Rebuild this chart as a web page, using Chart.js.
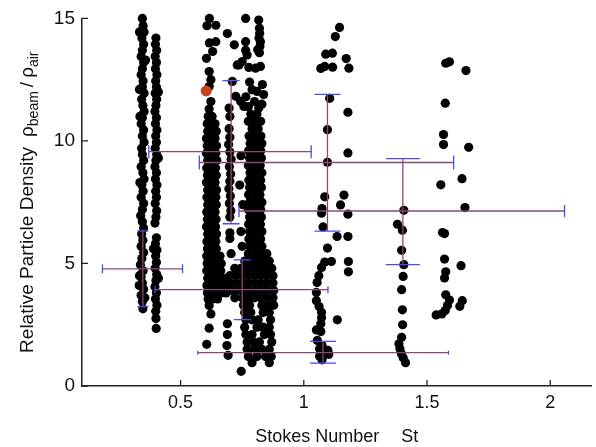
<!DOCTYPE html>
<html>
<head>
<meta charset="utf-8">
<script src="https://cdn.jsdelivr.net/npm/chart.js@4/dist/chart.umd.min.js"></script>
<style>
  html, body { margin: 0; padding: 0; background: #ffffff; }
  #wrap { width: 596px; height: 447px; position: relative; }
</style>
</head>
<body>
<div id="wrap"><canvas id="c" width="596" height="447"></canvas></div>
<script>
// ---------- axis ticks ----------
const xTickValues = [0.5, 1, 1.5, 2];
const yTickValues = [0, 5, 10, 15];
const xTitleMain = 'Stokes Number';
const xTitleSym = 'St';
const yTitleMain = 'Relative Particle Density';

// ---------- measured particles (x = Stokes number, y = relative density) ----------
const colA = [
  [0.345,15.0],[0.348,14.7],[0.352,14.45],[0.343,14.2],[0.35,13.95],[0.345,13.7],[0.34,13.45],[0.35,13.2],
  [0.345,12.95],[0.34,12.7],[0.348,12.45],[0.345,12.2],[0.352,11.95],[0.342,11.7],[0.347,11.45],[0.352,11.2],
  [0.345,10.95],[0.34,10.7],[0.35,10.45],[0.345,10.2],[0.352,9.95],[0.342,9.7],[0.345,9.45],[0.35,9.2],
  [0.34,8.95],[0.347,8.7],[0.352,8.45],[0.343,8.2],[0.348,7.95],[0.34,7.7],[0.35,7.45],[0.345,7.2],
  [0.338,6.95],[0.345,6.7],[0.35,6.45],[0.342,6.2],[0.347,5.95],[0.34,5.7],[0.35,5.45],[0.343,5.2],
  [0.337,4.95],[0.348,4.7],[0.34,4.45],[0.345,4.2],[0.35,3.95],[0.34,3.7],[0.345,3.45],[0.347,3.15],
  [0.333,14.45],[0.358,13.3],[0.333,12.1],[0.335,11.0],[0.335,8.3],[0.333,4.5],[0.332,4.1],[0.355,3.6]
];
const colB = [
  [0.40,14.2],[0.398,13.95],[0.403,13.7],[0.397,13.45],[0.402,13.2],[0.398,12.95],[0.404,12.7],[0.399,12.45],
  [0.402,12.2],[0.397,11.95],[0.403,11.7],[0.40,11.45],[0.396,11.2],[0.402,10.95],[0.398,10.7],[0.404,10.45],
  [0.399,10.2],[0.402,9.95],[0.397,9.7],[0.403,9.45],[0.40,9.2],[0.396,8.95],[0.402,8.7],[0.398,8.45],
  [0.404,8.2],[0.399,7.95],[0.402,7.7],[0.397,7.45],[0.403,7.15],[0.40,6.9],[0.396,6.65],[0.402,6.05],
  [0.398,5.8],[0.404,5.55],[0.399,5.3],[0.402,5.05],[0.397,4.8],[0.403,4.55],[0.40,4.3],[0.396,4.05],
  [0.402,3.8],[0.398,3.55],[0.404,3.3],[0.399,3.05],[0.40,2.75],[0.401,2.35],
  [0.41,12.0],[0.41,9.3],[0.39,5.6],[0.41,4.4]
];
const colCTop = [
  [0.617,15.0],[0.607,14.7],[0.643,14.72],[0.617,14.0],[0.643,14.05],[0.63,13.65],[0.605,13.37],
  [0.616,12.83],[0.623,12.5],[0.616,12.22],[0.623,11.61],[0.616,11.3]
];
// dense band rows: [y, x1, x2, ...]
const rowsC = [
  [11.0,0.612,0.628],[10.7,0.608,0.625,0.64],[10.4,0.61,0.628,0.645],[10.1,0.605,0.622,0.64],
  [9.8,0.608,0.627,0.646],[9.5,0.605,0.624,0.643],[9.2,0.61,0.628,0.647],[8.9,0.606,0.624,0.642],
  [8.6,0.609,0.627,0.645],[8.3,0.605,0.623,0.64],[8.0,0.61,0.628,0.646],[7.7,0.607,0.625,0.643],
  [7.4,0.61,0.628,0.645],[7.1,0.606,0.624,0.64],[6.8,0.609,0.627,0.644],[6.5,0.605,0.623,0.642],
  [6.2,0.61,0.628,0.646],[5.9,0.607,0.625,0.643],[5.6,0.609,0.627,0.645],[5.3,0.606,0.624,0.642,0.66],
  [5.0,0.608,0.627,0.646,0.665],[4.7,0.606,0.625,0.644,0.663],[4.4,0.61,0.628,0.647,0.667,0.686],
  [4.1,0.607,0.626,0.645,0.664,0.683],[3.8,0.609,0.628,0.647,0.666,0.685],[3.55,0.612,0.63,0.65],
  [3.28,0.616],[2.94,0.623],[2.36,0.616],[1.7,0.606]
];
const colD = [
  [0.69,14.38],[0.718,13.92],[0.73,13.1],[0.71,12.43],[0.724,11.82],[0.697,11.34],[0.744,11.61],[0.757,11.41],
  [0.70,11.0],[0.697,10.5],[0.70,10.15],[0.695,9.85],[0.70,9.55],[0.705,9.25],[0.698,8.95],[0.703,8.65],
  [0.70,8.35],[0.696,8.05],[0.702,7.75],[0.698,7.45],[0.704,7.15],[0.70,6.9],[0.70,6.25],[0.70,6.02],
  [0.705,5.4],[0.69,2.54],[0.69,2.1],[0.688,1.65],[0.693,1.25],
  [0.745,9.4],[0.74,8.2],[0.752,7.4],[0.745,6.3],[0.75,5.7]
];
const colETop = [
  [0.764,15.0],[0.817,14.93],[0.82,14.6],[0.821,14.39],[0.818,14.2],[0.824,14.05],[0.764,14.05],[0.822,13.85],
  [0.764,13.7],[0.813,13.72],[0.82,13.6],[0.77,13.51],[0.75,13.24],[0.737,13.1],[0.777,13.0],[0.804,12.97],
  [0.824,13.04],[0.79,12.09],[0.81,12.02],[0.837,11.89],[0.80,11.61],[0.83,11.5],[0.775,11.4],[0.817,11.34],
  [0.78,12.4],[0.832,12.3],[0.765,11.8]
];
const rowsE = [
  [11.1,0.785,0.81],[10.8,0.775,0.80,0.825],[10.5,0.79,0.815],[10.2,0.778,0.802,0.826],
  [9.9,0.782,0.808,0.83],[9.6,0.776,0.80,0.825],[9.3,0.78,0.805,0.828],[9.0,0.775,0.80,0.823],
  [8.7,0.782,0.806,0.83],[8.4,0.777,0.80,0.825],[8.1,0.78,0.805,0.828],[7.8,0.776,0.80,0.822],
  [7.5,0.78,0.806,0.83],[7.2,0.775,0.80,0.825],[6.9,0.78,0.805,0.828],[6.6,0.776,0.80,0.824],
  [6.3,0.78,0.806,0.83],[6.0,0.777,0.80,0.825],[5.7,0.78,0.805,0.83],[5.4,0.775,0.80,0.826,0.85],
  [5.1,0.76,0.785,0.81,0.835,0.86],[4.8,0.72,0.745,0.77,0.795,0.82,0.845,0.87],
  [4.5,0.70,0.725,0.75,0.775,0.80,0.825,0.85,0.875],[4.2,0.70,0.725,0.75,0.775,0.80,0.825,0.85,0.875],
  [3.9,0.70,0.725,0.75,0.775,0.80,0.825,0.85,0.878],[3.6,0.72,0.75,0.775,0.80,0.825,0.85,0.875],
  [3.3,0.755,0.78,0.83,0.855,0.878],[3.0,0.76,0.785,0.835,0.86],
  [2.7,0.765,0.79,0.815,0.865],[2.4,0.76,0.81,0.835,0.86],
  [2.1,0.765,0.79,0.84,0.865],[1.8,0.77,0.795,0.82,0.87],
  [1.5,0.77,0.80,0.83,0.86],[1.2,0.775,0.81,0.845,0.868],[0.95,0.79,0.86],[0.6,0.746]
];
const colF = [
  [1.145,14.63],[1.128,14.26],[1.089,13.54],[1.116,13.58],[1.172,13.36],[1.069,12.96],[1.085,13.04],[1.117,13.01],
  [1.183,12.97],[1.105,11.74],[1.179,11.17],[1.096,10.46],[1.179,9.51],[1.096,9.13],[1.085,7.72],[1.163,7.79],
  [1.149,7.39],[1.074,7.24],[1.072,7.05],[1.179,7.01],[1.078,6.49],[1.135,6.1],[1.179,6.1],[1.096,5.63],
  [1.112,5.08],[1.085,5.06],[1.181,5.08],[1.181,4.66],[1.072,4.84],[1.061,4.5],[1.054,4.22],[1.051,3.82],
  [1.051,3.48],[1.062,3.24],[1.072,3.01],[1.072,2.78],[1.136,2.7],[1.069,2.54],[1.051,2.29],[1.069,2.22],
  [1.055,1.86],[1.074,1.65],[1.064,1.52],[1.098,1.45],[1.085,1.32],[1.101,1.29],[1.064,1.21],[1.074,1.07]
];
const colG = [
  [1.406,7.17],[1.38,6.6],[1.40,6.36],[1.397,5.54],[1.406,4.95],[1.403,4.47],[1.397,3.93],[1.40,3.11],
  [1.401,2.5],[1.397,1.99],[1.386,1.72],[1.39,1.52],[1.396,1.32],[1.403,1.15],[1.413,0.95]
];
const colH = [
  [1.576,13.17],[1.591,13.23],[1.658,12.87],[1.574,11.54],[1.567,10.26],[1.567,9.85],[1.669,9.74],[1.642,8.46],
  [1.556,8.21],[1.654,7.28],[1.563,6.26],[1.571,6.22],[1.571,5.18],[1.638,4.91],[1.576,4.66],[1.571,4.41],
  [1.576,3.72],[1.591,3.51],[1.643,3.48],[1.633,3.25],[1.583,3.28],[1.574,3.08],[1.56,2.94],[1.537,2.9]
];
const highlight = [[0.604, 12.04]];

// ---------- error bars: centre and extents ----------
const errX    = [0.347, 0.705, 1.096, 1.402, 0.75, 1.078];
const errY    = [4.78, 9.56, 9.12, 7.14, 3.93, 1.36];
const errXLow = [0.183, 0.371, 0.576, 0.737, 0.396, 0.57];
const errXHigh= [0.508, 1.03, 1.608, 2.058, 1.098, 1.587];
const errYLow = [3.24, 6.62, 6.32, 4.95, 2.71, 0.93];
const errYHigh= [6.33, 12.46, 11.9, 9.28, 5.15, 1.82];
// cap sizes in pixels (style)
const capH = [9, 13, 14, 12, 7, 4];
const capV = [11, 17, 26, 34, 17, 26];

function toPts(pairs) { return pairs.map(p => ({x: p[0], y: p[1]})); }
function rowsToPts(rows) {
  const out = [];
  rows.forEach(r => { for (let i = 1; i < r.length; i++) out.push({x: r[i], y: r[0]}); });
  return out;
}
const blackPts = [].concat(
  toPts(colA), toPts(colB), toPts(colCTop), rowsToPts(rowsC), toPts(colD),
  toPts(colETop), rowsToPts(rowsE), toPts(colF), toPts(colG), toPts(colH)
);

const FONT = '"Liberation Sans", Arial, Helvetica, sans-serif';

const decorPlugin = {
  id: 'decor',
  afterDatasetsDraw(chart) {
    const ctx = chart.ctx, xs = chart.scales.x, ys = chart.scales.y;
    ctx.save();
    ctx.lineWidth = 1.3;
    for (let i = 0; i < errX.length; i++) {
      const cx = xs.getPixelForValue(errX[i]), cy = ys.getPixelForValue(errY[i]);
      const x0 = xs.getPixelForValue(errXLow[i]), x1 = xs.getPixelForValue(errXHigh[i]);
      const y0 = ys.getPixelForValue(errYLow[i]), y1 = ys.getPixelForValue(errYHigh[i]);
      ctx.strokeStyle = '#8a4a72';
      ctx.beginPath(); ctx.moveTo(x0, cy); ctx.lineTo(x1, cy); ctx.stroke();
      ctx.beginPath(); ctx.moveTo(cx, y0); ctx.lineTo(cx, y1); ctx.stroke();
      ctx.strokeStyle = '#4a4cf2';
      ctx.beginPath();
      ctx.moveTo(x0, cy - capH[i]/2); ctx.lineTo(x0, cy + capH[i]/2);
      ctx.moveTo(x1, cy - capH[i]/2); ctx.lineTo(x1, cy + capH[i]/2);
      ctx.moveTo(cx - capV[i]/2, y0); ctx.lineTo(cx + capV[i]/2, y0);
      ctx.moveTo(cx - capV[i]/2, y1); ctx.lineTo(cx + capV[i]/2, y1);
      ctx.stroke();
    }
    // highlighted point on top
    ctx.fillStyle = '#c4441f';
    highlight.forEach(p => {
      ctx.beginPath();
      ctx.arc(xs.getPixelForValue(p[0]), ys.getPixelForValue(p[1]), 5.5, 0, Math.PI*2);
      ctx.fill();
    });
    ctx.restore();
  },
  afterDraw(chart) {
    const ctx = chart.ctx, xs = chart.scales.x, ys = chart.scales.y, ca = chart.chartArea;
    ctx.save();
    // inward tick marks
    ctx.strokeStyle = '#222'; ctx.lineWidth = 1.3;
    ctx.beginPath();
    xTickValues.forEach(v => { const px = xs.getPixelForValue(v); ctx.moveTo(px, ca.bottom); ctx.lineTo(px, ca.bottom - 6); });
    yTickValues.forEach(v => { const py = ys.getPixelForValue(v); ctx.moveTo(ca.left, py); ctx.lineTo(ca.left + 6, py); });
    ctx.stroke();
    // x title
    ctx.fillStyle = '#111';
    ctx.font = '18px ' + FONT;
    ctx.textBaseline = 'alphabetic';
    ctx.textAlign = 'left';
    const wMain = ctx.measureText(xTitleMain).width;
    const gap = 22;
    const wSym = ctx.measureText(xTitleSym).width;
    const totalX = wMain + gap + wSym;
    const cxT = (ca.left + ca.right) / 2;
    let tx = cxT - totalX / 2;
    ctx.fillText(xTitleMain, tx, 442);
    ctx.fillText(xTitleSym, tx + wMain + gap, 442);
    // y title, rotated, with subscripts
    const mainF = '19px ' + FONT, subF = '14px ' + FONT;
    const segs = [
      {t: yTitleMain, f: mainF, dy: 0, after: 10},
      {t: 'ρ', f: mainF, dy: 0, after: 0},
      {t: 'beam', f: subF, dy: 5, after: 4},
      {t: '/', f: mainF, dy: 0, after: 4},
      {t: 'ρ', f: mainF, dy: 0, after: 0},
      {t: 'air', f: subF, dy: 5, after: 0}
    ];
    let total = 0;
    segs.forEach(s => { ctx.font = s.f; s.w = ctx.measureText(s.t).width; total += s.w + s.after; });
    ctx.translate(33, (ca.top + ca.bottom) / 2);
    ctx.rotate(-Math.PI / 2);
    let sx = -total / 2;
    segs.forEach(s => { ctx.font = s.f; ctx.fillText(s.t, sx, s.dy); sx += s.w + s.after; });
    ctx.restore();
  }
};

new Chart(document.getElementById('c'), {
  type: 'scatter',
  data: {
    datasets: [{
      data: blackPts,
      backgroundColor: '#000000',
      borderWidth: 0,
      pointRadius: 4.6,
      pointHoverRadius: 4.6,
      clip: false
    }]
  },
  options: {
    responsive: false,
    animation: false,
    events: [],
    layout: { padding: { top: 16, left: 0, right: 0, bottom: 0 } },
    plugins: { legend: { display: false }, tooltip: { enabled: false } },
    scales: {
      x: {
        type: 'linear', min: 0.1, max: 2.167,
        afterBuildTicks: s => { s.ticks = xTickValues.map(v => ({value: v})); },
        afterFit: s => { s.height = 61; },
        grid: { display: false, drawTicks: false },
        border: { display: true, color: '#222', width: 1.5 },
        ticks: { color: '#111', font: { size: 18, family: FONT }, padding: 6, maxRotation: 0,
                 callback: v => String(v) }
      },
      y: {
        type: 'linear', min: 0, max: 15,
        afterBuildTicks: s => { s.ticks = yTickValues.map(v => ({value: v})); },
        afterFit: s => { s.width = 82; },
        grid: { display: false, drawTicks: false },
        border: { display: true, color: '#222', width: 1.5 },
        ticks: { color: '#111', font: { size: 19, family: FONT }, padding: 7,
                 callback: v => String(v) }
      }
    }
  },
  plugins: [decorPlugin]
});
</script>
</body>
</html>
